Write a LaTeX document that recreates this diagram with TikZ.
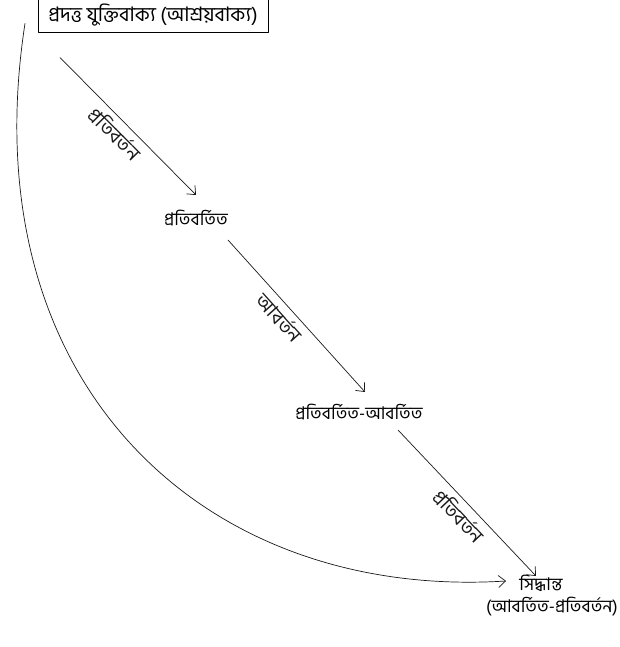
\documentclass[tikz,border=0pt]{standalone}
\usepackage{fontspec}
\newfontfamily\bn[Script=Bengali]{Hind Siliguri}
\usetikzlibrary{calc,arrows.meta}
\begin{document}
\begin{tikzpicture}[x=1pt,y=1pt,line cap=round,line join=round,
  premisebox/.style={draw,line width=.8pt,minimum width=230pt,minimum height=33pt,
                     inner sep=2pt,font=\bn\fontsize{20}{22}\selectfont},
  stage/.style={inner sep=2pt,align=center,font=\bn\fontsize{17.5}{22}\selectfont},
  rel/.style={sloped,below,inner sep=5pt,font=\bn\fontsize{19.5}{22}\selectfont},
  arr/.style={-{Straight Barb[length=7pt,width=12pt]},line width=.7pt,black!90}]
\useasboundingbox (0,0) rectangle (619,-647);
\node[premisebox] (premise) at (153,-15.5) {প্রদত্ত যুক্তিবাক্য (আশ্রয়বাক্য)};
\node[stage] (conv) at (196,-218) {প্রতিবর্তিত};
\node[stage] (convobv) at (359,-412) {প্রতিবর্তিত-আবর্তিত};
\node[stage] (concl) at (552,-596) {সিদ্ধান্ত\hspace*{22pt}\\(আবর্তিত-প্রতিবর্তন)};
% the three steps
\draw[arr] ($(premise.center)+(-93,-42)$) -- node[rel,pos=.48] {প্রতিবর্তন} ($(conv.center)+(0,23)$);
\draw[arr] ($(conv.center)+(32,-22)$) -- node[rel,pos=.45] {আবর্তন} ($(convobv.center)+(6,20)$);
\draw[arr] ($(convobv.center)+(39,-18)$) -- node[rel,pos=.52] {প্রতিবর্তন} ($(concl.center)+(-16,20)$);
% direct inference
\draw[arr] ($(premise.center)+(-128,-8)$) .. controls (-30,-380) and (200,-600)
  .. ($(concl.center)+(-46,15)$);
\end{tikzpicture}
\end{document}
